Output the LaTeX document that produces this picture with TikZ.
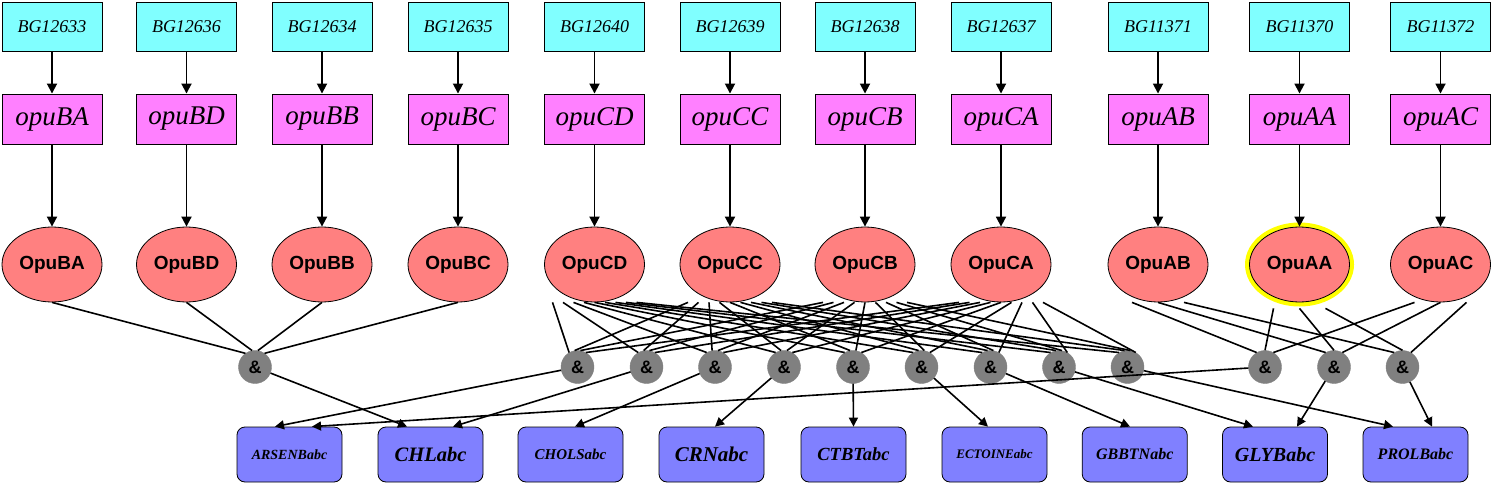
\documentclass[tikz,border=0pt]{standalone}
\usepackage{fontspec}
\setmainfont{Liberation Serif}
\newfontfamily\arialfont{Liberation Sans}
\usetikzlibrary{arrows.meta,shapes.geometric}
\definecolor{bgc}{HTML}{80FFFF}
\definecolor{genc}{HTML}{FF80FF}
\definecolor{protc}{HTML}{FF8080}
\definecolor{ampc}{HTML}{808080}
\definecolor{tc}{HTML}{8080FF}
\definecolor{hl}{HTML}{FFFF00}
\begin{document}
\begin{tikzpicture}[x=1pt,y=-1pt,
  bgbox/.style={draw=black, line width=0.9pt, fill=bgc, minimum width=100pt, minimum height=49pt, inner sep=0pt, font=\fontsize{18}{20}\selectfont\itshape},
  genebox/.style={draw=black, line width=0.9pt, fill=genc, minimum width=100pt, minimum height=50pt, inner sep=0pt, font=\fontsize{27}{30}\selectfont\itshape},
  protell/.style={ellipse, draw=black, line width=0.8pt, fill=protc, minimum width=100pt, minimum height=75pt, inner sep=0pt, font=\arialfont\fontsize{19}{21}\selectfont\bfseries},
  ampnode/.style={circle, fill=ampc, draw=ampc, minimum size=33pt, inner sep=0pt, font=\arialfont\fontsize{18}{20}\selectfont\bfseries},
  tbox/.style={draw=black, line width=0.8pt, rounded corners=8pt, fill=tc, minimum width=105pt, minimum height=55pt, inner sep=0pt},
  arr/.style={line width=1.8pt, -{Triangle[length=10pt,width=10pt]}},
  link/.style={line width=1.6pt},
  oarr/.style={line width=1.6pt, -{Triangle[length=9pt,width=9pt]}}
]
\useasboundingbox (0,0) rectangle (1492,484);

% top three rows
\foreach \x/\bg/\id in {52/BG12633/BA, 186.5/BG12636/BD, 322/BG12634/BB, 458/BG12635/BC, 594.5/BG12640/CD, 730/BG12639/CC, 865/BG12638/CB, 1001/BG12637/CA, 1158/BG11371/AB, 1440.5/BG11372/AC} {
  \node[bgbox] (b\id) at (\x,26.5) {\bg};
  \node[genebox] (g\id) at (\x,119) {opu\id};
  \node[protell] (p\id) at (\x,264.5) {Opu\id};
  \draw[arr] (b\id) -- (g\id);
  \draw[arr] (g\id) -- (p\id);
}
\node[bgbox] (bAA) at (1299.5,26.5) {BG11370};
\node[genebox] (gAA) at (1299.5,119) {opuAA};
\node[protell, preaction={draw=hl, line width=9pt}] (pAA) at (1299.5,264.5) {OpuAA};
\draw[arr] (bAA) -- (gAA);
\draw[arr] (gAA) -- (pAA);

% & nodes
\node[ampnode] (aB) at (255,367) {\&};
\foreach \x [count=\j] in {577.5,646.5,715,784,853,921.5,990.5,1059,1127.5}
  \node[ampnode] (aC\j) at (\x,367) {\&};
\foreach \x [count=\j] in {1265,1334,1402.5}
  \node[ampnode] (aA\j) at (\x,367) {\&};

% bottom boxes
\node[tbox, font=\fontsize{14}{16}\selectfont\bfseries\itshape] (tARS) at (289.5,454.5) {ARSENBabc};
\node[tbox, font=\fontsize{20.5}{22}\selectfont\bfseries\itshape] (tCHL) at (430.5,454.5) {CHLabc};
\node[tbox, font=\fontsize{15}{17}\selectfont\bfseries\itshape] (tCHOL) at (570.5,454.5) {CHOLSabc};
\node[tbox, font=\fontsize{21}{23}\selectfont\bfseries\itshape] (tCRN) at (711.5,454.5) {CRNabc};
\node[tbox, font=\fontsize{18.5}{20}\selectfont\bfseries\itshape] (tCTBT) at (853.5,454.5) {CTBTabc};
\node[tbox, font=\fontsize{13}{15}\selectfont\bfseries\itshape] (tECT) at (994.5,454.5) {ECTOINEabc};
\node[tbox, font=\fontsize{16}{18}\selectfont\bfseries\itshape] (tGBBT) at (1134.7,454.5) {GBBTNabc};
\node[tbox, font=\fontsize{20}{22}\selectfont\bfseries\itshape] (tGLY) at (1275,454.5) {GLYBabc};
\node[tbox, font=\fontsize{16}{18}\selectfont\bfseries\itshape] (tPROL) at (1415.5,454.5) {PROLBabc};

% OpuB links
\foreach \e/\a in {pBA/125, pBD/100, pBB/80, pBC/55}
  \draw[link] (\e.south) -- (aB.\a);

% OpuC links
\foreach \e [count=\i from 0] in {pCD,pCC,pCB,pCA} {
  \foreach \j in {1,...,9} {
    \pgfmathsetmacro\dx{-42+10.5*(\j-1)}
    \pgfmathtruncatemacro\ang{120-20*\i}
    \draw[link] ([xshift=\dx pt]\e.south) -- (aC\j.\ang);
  }
}

% OpuA links
\foreach \e/\a/\ys in {pAB/120/0, pAA/90/-6, pAC/60/0} {
  \foreach \j in {1,2,3} {
    \pgfmathtruncatemacro\dx{-26*(2-\j)}
    \draw[link] ([xshift=\dx pt, yshift=\ys pt]\e.south) -- (aA\j.\a);
  }
}

% & to products
\foreach \s/\t/\dx in {aC1/tARS/-14.5, aA1/tARS/22.5, aB/tCHL/-23.5, aC2/tCHL/22.5, aC3/tCHOL/4.5, aC4/tCRN/3.5, aC5/tCTBT/0, aC6/tECT/-6.5, aC7/tGBBT/-4.7, aC8/tGLY/-22, aA2/tGLY/22, aC9/tPROL/-22.5, aA3/tPROL/16.5}
  \draw[oarr] (\s) -- ([xshift=\dx pt]\t.north);
\end{tikzpicture}
\end{document}
